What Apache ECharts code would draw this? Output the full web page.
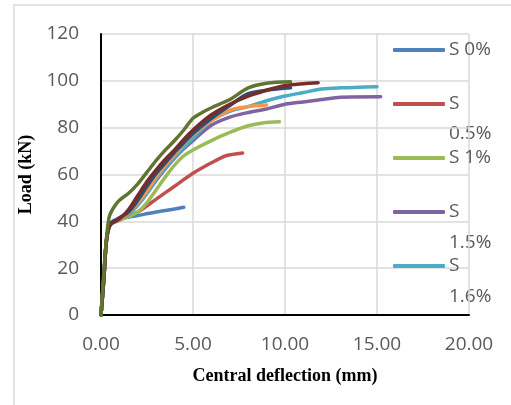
<!DOCTYPE html>
<html lang="en">
  <head>
    <meta charset="UTF-8" />
    <title>Load vs central deflection</title>
    <script src="https://cdn.jsdelivr.net/npm/echarts@6/dist/echarts.min.js"></script>
    <style>
      html, body { margin: 0; padding: 0; background: #fff; }
    </style>
  </head>

  <body>
    <div id="main" style="width: 511px; height: 405px"></div>
    <script type="text/javascript">
      // [deflection (mm), load (kN)]
      var s0 = [[0,0],[0.15,15],[0.3,32],[0.5,39],[1,41],[2,42.5],[3,44],[4,45.3],[4.5,46]];
      var s05 = [[0,0],[0.15,15],[0.3,32],[0.5,38.5],[1,40.5],[2,44],[3,49.5],[4,55],[5,60.5],[6,65],[6.8,68],[7.7,69.2]];
      var s1 = [[0,0],[0.15,15],[0.3,32],[0.5,38.5],[1,40.5],[1.5,42],[2,44],[2.5,48],[3,53.5],[3.5,59],[4,64],[4.5,68],[5,70.5],[6,74.5],[7,78],[8,80.8],[8.8,82],[9.7,82.5]];
      var s15 = [[0,0],[0.15,15],[0.3,32],[0.5,38.5],[1,41],[1.5,43],[2,47],[2.5,52],[3,57.5],[3.5,62.5],[4,67],[4.5,71],[5,74.5],[6,81],[7,84.5],[8,86.5],[9,88],[10,90],[11,91],[12,92],[13,93],[15.2,93.2]];
      var s16 = [[0,0],[0.15,15],[0.3,32],[0.5,38.5],[1,41],[1.5,43],[2,47],[2.5,52],[3,58],[3.5,63],[4,67.5],[4.5,71.5],[5,75.5],[6,83],[7,87],[8,89],[9,91.5],[10,93.5],[11,95],[12,96.5],[13,97],[15,97.5]];
      var s6 = [[0,0],[0.15,15],[0.3,32],[0.5,38.5],[1,41],[1.5,43.5],[2,48],[2.5,53],[3,59],[3.5,64],[4,68.5],[4.5,73],[5,77],[6,83],[7,87.5],[8,89],[9,89.7]];
      var s7 = [[0,0],[0.15,15],[0.3,32],[0.5,39],[1,41.5],[1.5,44],[2,49],[2.5,55],[3,60.5],[3.5,65],[4,69.5],[4.5,73.5],[5,77.5],[6,84],[7,89.5],[8,94.5],[9,96],[10.3,97]];
      var s8 = [[0,0],[0.15,15],[0.3,32],[0.5,38.5],[1,41],[1.5,45],[2,51],[2.5,57],[3,62],[3.5,66.5],[4,70.5],[4.5,75],[5,79],[6,85.5],[7,90],[8,93.5],[9,96],[10,98],[11,98.8],[11.8,99.2]];
      var s9 = [[0,0],[0.15,18],[0.3,33],[0.45,42],[0.7,46],[1,49],[1.5,52],[2,56],[2.5,61],[3,66],[3.5,70.5],[4,74.5],[4.5,79],[5,84],[5.5,86.5],[6,88.5],[7,92],[8,97],[9,99],[10.3,99.6]];

      var seriesNames = ["S 0%", "S 0.5%", "S 1%", "S 1.5%", "S 1.6%", "Series 6", "Series 7", "Series 8", "Series 9"];
      var seriesData = [s0, s05, s1, s15, s16, s6, s7, s8, s9];
      var seriesColors = ["#4F81BD", "#C0504D", "#9BBB59", "#8064A2", "#4BACC6", "#F79646", "#2C4D75", "#772C2A", "#5F7530"];
      var legendNames = ["S 0%", "S 0.5%", "S 1%", "S 1.5%", "S 1.6%"];

      var chart = echarts.init(document.getElementById("main"));

      var seriesList = [];
      seriesNames.forEach(function (name, i) {
        seriesList.push({
          type: "line",
          name: name,
          data: seriesData[i],
          smooth: 0.3,
          symbol: "none",
          color: seriesColors[i],
          lineStyle: { width: 3.5, color: seriesColors[i], cap: "round" },
          animation: false
        });
      });

      var labelFont = { fontFamily: "Open Sans", fontSize: 19, color: "#595959" };
      var titleFont = { fontFamily: "Liberation Serif", fontWeight: "bold", fontSize: 18, color: "#000" };

      var option = {
        backgroundColor: "#fff",
        animation: false,
        grid: { left: 101, right: 42, top: 34, bottom: 90 },
        xAxis: {
          type: "value",
          min: 0, max: 20, interval: 5,
          name: "Central deflection (mm)",
          nameLocation: "middle",
          nameGap: 52,
          nameTextStyle: titleFont,
          axisLine: { show: true, onZero: false, lineStyle: { color: "#000", width: 2 } },
          axisTick: { show: false },
          axisLabel: Object.assign({ margin: 20, formatter: function (v) { return v.toFixed(2); } }, labelFont),
          splitLine: { show: true, lineStyle: { color: "#d9d9d9", width: 1.5 } }
        },
        yAxis: {
          type: "value",
          min: 0, max: 120, interval: 20,
          name: "Load (kN)",
          nameLocation: "middle",
          nameGap: 46,
          nameTextStyle: titleFont,
          axisLine: { show: true, onZero: false, lineStyle: { color: "#000", width: 2 } },
          axisTick: { show: false },
          axisLabel: Object.assign({ margin: 22 }, labelFont),
          splitLine: { show: true, lineStyle: { color: "#d9d9d9", width: 1.5 } }
        },
        legend: {
          data: legendNames,
          orient: "vertical",
          left: 393,
          top: 40,
          icon: "roundRect",
          itemWidth: 52,
          itemHeight: 4,
          itemGap: 34,
          padding: 0,
          formatter: function (name) {
            return name.indexOf(".") >= 0 ? "S" : name;
          },
          textStyle: { fontFamily: "Open Sans", fontSize: 19, color: "#595959", lineHeight: 20, padding: [0, 0, 0, -1] }
        },
        graphic: [
          {
            type: "rect",
            shape: { x: 14, y: 5, width: 520, height: 420 },
            style: { fill: "none", stroke: "#d9d9d9", lineWidth: 1.5 },
            z: -1
          },
          { type: "text", left: 449, top: 124, style: { text: "0.5%", font: "19px 'Open Sans'", fill: "#595959" } },
          { type: "text", left: 449, top: 233, style: { text: "1.5%", font: "19px 'Open Sans'", fill: "#595959" } },
          { type: "text", left: 449, top: 287, style: { text: "1.6%", font: "19px 'Open Sans'", fill: "#595959" } }
        ],
        series: seriesList
      };

      chart.setOption(option);
    </script>
  </body>
</html>
